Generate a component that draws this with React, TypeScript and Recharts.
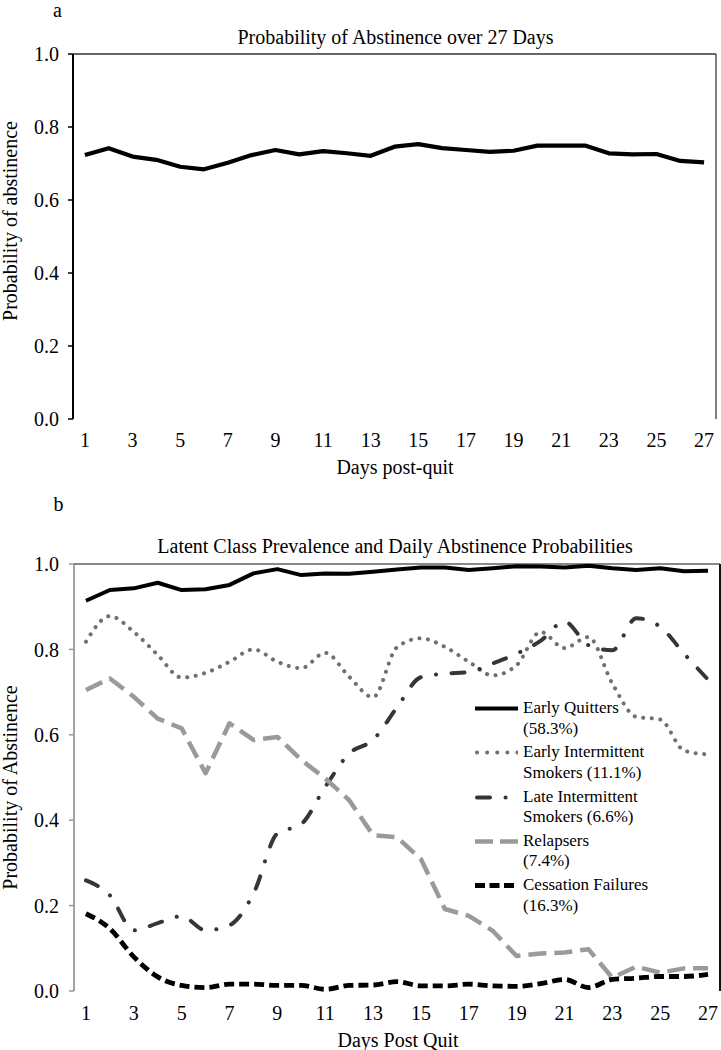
import { LineChart, Line, XAxis, YAxis, ReferenceLine, Legend } from 'recharts'

const SERIF = '"Liberation Serif", "Times New Roman", serif'

const DAYS = [1, 2, 3, 4, 5, 6, 7, 8, 9, 10, 11, 12, 13, 14, 15, 16, 17, 18, 19, 20, 21, 22, 23, 24, 25, 26, 27]
const DAY_LABELS = [1, 3, 5, 7, 9, 11, 13, 15, 17, 19, 21, 23, 25, 27]
const Y_TICKS = [0, 0.2, 0.4, 0.6, 0.8, 1]

// panel a
const OVERALL = [0.723, 0.742, 0.719, 0.71, 0.691, 0.684, 0.702, 0.723, 0.737, 0.725, 0.734, 0.728, 0.721, 0.746, 0.753, 0.742, 0.737, 0.732, 0.735, 0.749, 0.749, 0.749, 0.728, 0.725, 0.726, 0.707, 0.703]

// panel b
const EARLY_QUITTERS = [0.914, 0.939, 0.943, 0.956, 0.939, 0.941, 0.951, 0.978, 0.988, 0.974, 0.978, 0.977, 0.982, 0.987, 0.992, 0.992, 0.986, 0.99, 0.995, 0.994, 0.992, 0.996, 0.99, 0.986, 0.99, 0.983, 0.984]
const EARLY_INTERMITTENT = [0.818, 0.878, 0.841, 0.787, 0.734, 0.745, 0.771, 0.8, 0.771, 0.756, 0.792, 0.736, 0.688, 0.805, 0.826, 0.806, 0.771, 0.739, 0.763, 0.841, 0.803, 0.829, 0.72, 0.642, 0.636, 0.563, 0.554]
const LATE_INTERMITTENT = [0.259, 0.224, 0.142, 0.159, 0.175, 0.142, 0.154, 0.228, 0.369, 0.391, 0.478, 0.556, 0.588, 0.664, 0.735, 0.743, 0.747, 0.767, 0.79, 0.82, 0.865, 0.81, 0.798, 0.873, 0.853, 0.79, 0.729]
const RELAPSERS = [0.705, 0.732, 0.689, 0.638, 0.615, 0.51, 0.627, 0.588, 0.595, 0.541, 0.498, 0.447, 0.365, 0.36, 0.309, 0.192, 0.176, 0.141, 0.082, 0.088, 0.09, 0.098, 0.031, 0.057, 0.043, 0.053, 0.053]
const CESSATION_FAILURES = [0.181, 0.146, 0.08, 0.033, 0.013, 0.008, 0.016, 0.016, 0.013, 0.013, 0.004, 0.013, 0.014, 0.022, 0.012, 0.012, 0.016, 0.012, 0.011, 0.017, 0.027, 0.008, 0.027, 0.03, 0.034, 0.034, 0.039]

const CLASS_LABELS = [
  ['Early Quitters', '(58.3%)'],
  ['Early Intermittent', 'Smokers (11.1%)'],
  ['Late Intermittent', 'Smokers (6.6%)'],
  ['Relapsers', '(7.4%)'],
  ['Cessation Failures', '(16.3%)'],
]

// band edges so tick marks sit between days, like the original
const DAY_BOUNDS = [...DAYS.map((d) => d - 0.5), DAYS.length + 0.5]
const X_DOMAIN = [0.5, DAYS.length + 0.5]

const overallData = DAYS.map((day, i) => ({ day, overall: OVERALL[i] }))
const classData = DAYS.map((day, i) => ({
  day,
  eq: EARLY_QUITTERS[i],
  ei: EARLY_INTERMITTENT[i],
  li: LATE_INTERMITTENT[i],
  rel: RELAPSERS[i],
  cf: CESSATION_FAILURES[i],
}))

const STYLES = [
  { key: 'eq', stroke: '#000', width: 4, dash: undefined, legendDash: undefined, cap: 'butt', type: 'linear' },
  { key: 'ei', stroke: '#707070', width: 4, dash: '0.1 8.5', legendDash: '0.1 10', cap: 'round', type: 'monotone' },
  { key: 'li', stroke: '#363636', width: 4, dash: '13 15.5 0.1 15.5', legendDash: '13 15.5 0.1 15.5', cap: 'round', type: 'monotone' },
  { key: 'rel', stroke: '#9a9a9a', width: 4.5, dash: '18 8', legendDash: '18 7', cap: 'butt', type: 'linear' },
  { key: 'cf', stroke: '#000', width: 4.8, dash: '10 5', legendDash: '10 4.5', cap: 'butt', type: 'monotone' },
]

const tickFont = { fontSize: 20, fill: '#000', fontFamily: SERIF }

const ClassLegend = () => (
  <div style={{ fontFamily: SERIF, fontSize: 17, lineHeight: '20.5px', color: '#000' }}>
    {STYLES.map((s, i) => (
      <div key={s.key} style={{ display: 'flex', alignItems: 'flex-start', marginBottom: 3.3 }}>
        <svg width={43} height={20.5} style={{ flex: 'none' }}>
          <line
            x1={s.cap === 'round' ? 2 : 0}
            x2={43}
            y1={10.5}
            y2={10.5}
            stroke={s.stroke}
            strokeWidth={s.width}
            strokeDasharray={s.legendDash}
            strokeLinecap={s.cap as any}
          />
        </svg>
        <div style={{ marginLeft: 5, whiteSpace: 'nowrap' }}>
          <div>{CLASS_LABELS[i][0]}</div>
          <div>{CLASS_LABELS[i][1]}</div>
        </div>
      </div>
    ))}
  </div>
)

function OverallChart() {
  return (
    <LineChart width={721} height={480} data={overallData} margin={{ top: 54, right: 5, bottom: 31, left: 0 }}>
      <XAxis
        xAxisId="bounds"
        type="number"
        dataKey="day"
        domain={X_DOMAIN}
        ticks={DAY_BOUNDS}
        interval={0}
        tick={false}
        tickSize={5}
        tickLine={{ stroke: '#000', strokeWidth: 1.5 }}
        axisLine={{ stroke: '#000', strokeWidth: 2 }}
        height={0}
      />
      <XAxis
        xAxisId="days"
        type="number"
        dataKey="day"
        domain={X_DOMAIN}
        ticks={DAY_LABELS}
        interval={0}
        tick={tickFont}
        tickSize={0}
        tickMargin={14}
        tickLine={false}
        axisLine={false}
        height={30}
      />
      <YAxis
        type="number"
        domain={[0, 1]}
        ticks={Y_TICKS}
        interval={0}
        tickFormatter={(v: number) => v.toFixed(1)}
        width={73}
        tick={tickFont}
        tickSize={5}
        tickMargin={9}
        tickLine={{ stroke: '#000', strokeWidth: 1.5 }}
        axisLine={{ stroke: '#000', strokeWidth: 2 }}
      />
      <ReferenceLine xAxisId="days" y={1} stroke="#333" strokeWidth={1.5} />
      <ReferenceLine xAxisId="days" x={27.5} stroke="#555" strokeWidth={1.5} />
      <Line
        xAxisId="days"
        type="linear"
        dataKey="overall"
        stroke="#000"
        strokeWidth={4.2}
        strokeLinejoin="round"
        dot={false}
        activeDot={false}
        isAnimationActive={false}
      />
    </LineChart>
  )
}

function ClassChart() {
  return (
    <LineChart width={721} height={570} data={classData} margin={{ top: 84, right: 1, bottom: 29, left: 0 }}>
      <XAxis
        xAxisId="bounds"
        type="number"
        dataKey="day"
        domain={X_DOMAIN}
        ticks={DAY_BOUNDS}
        interval={0}
        tick={false}
        tickSize={5}
        tickLine={{ stroke: '#999', strokeWidth: 1.5 }}
        axisLine={{ stroke: '#a0a0a0', strokeWidth: 1.5 }}
        height={0}
      />
      <XAxis
        xAxisId="days"
        type="number"
        dataKey="day"
        domain={X_DOMAIN}
        ticks={DAY_LABELS}
        interval={0}
        tick={tickFont}
        tickSize={0}
        tickMargin={15}
        tickLine={false}
        axisLine={false}
        height={30}
      />
      <YAxis
        type="number"
        domain={[0, 1]}
        ticks={Y_TICKS}
        interval={0}
        tickFormatter={(v: number) => v.toFixed(1)}
        width={74}
        tick={tickFont}
        tickSize={5}
        tickMargin={10}
        tickLine={{ stroke: '#999', strokeWidth: 1.5 }}
        axisLine={{ stroke: '#858585', strokeWidth: 1.5 }}
      />
      <ReferenceLine xAxisId="days" y={1} stroke="#606060" strokeWidth={1.5} />
      <ReferenceLine xAxisId="days" x={27.5} stroke="#111" strokeWidth={2} />
      {STYLES.map((s) => (
        <Line
          key={s.key}
          xAxisId="days"
          type={s.type as any}
          dataKey={s.key}
          stroke={s.stroke}
          strokeWidth={s.width}
          strokeDasharray={s.dash}
          strokeLinecap={s.cap as any}
          strokeLinejoin="round"
          dot={false}
          activeDot={false}
          isAnimationActive={false}
        />
      ))}
      <Legend
        layout="vertical"
        align="center"
        verticalAlign="middle"
        content={() => <ClassLegend />}
        wrapperStyle={{ left: 475, top: 218, width: 245 }}
      />
    </LineChart>
  )
}

export default function App() {
  return (
    <div style={{ position: 'absolute', left: 0, top: 0, width: 721, height: 1050, background: '#fff' }}>
      <div style={{ position: 'absolute', left: 0, top: 0 }}>
        <OverallChart />
      </div>
      <div style={{ position: 'absolute', left: 0, top: 480 }}>
        <ClassChart />
      </div>
      <svg
        width={721}
        height={1050}
        style={{ position: 'absolute', left: 0, top: 0, pointerEvents: 'none' }}
        fontFamily={SERIF}
        fontSize={20}
        fill="#000"
      >
        <text x={57.5} y={17} textAnchor="middle">a</text>
        <text x={395.5} y={43.5} textAnchor="middle">Probability of Abstinence over 27 Days</text>
        <text x={395} y={473.5} textAnchor="middle">Days post-quit</text>
        <text x={17} y={221} textAnchor="middle" transform="rotate(-90 17 221)">Probability of abstinence</text>
        <text x={58.5} y={510.5} textAnchor="middle">b</text>
        <text x={395} y={553} textAnchor="middle">Latent Class Prevalence and Daily Abstinence Probabilities</text>
        <text x={398} y={1046.5} textAnchor="middle">Days Post Quit</text>
        <text x={17} y={787.5} textAnchor="middle" transform="rotate(-90 17 787.5)">Probability of Abstinence</text>
      </svg>
    </div>
  )
}
